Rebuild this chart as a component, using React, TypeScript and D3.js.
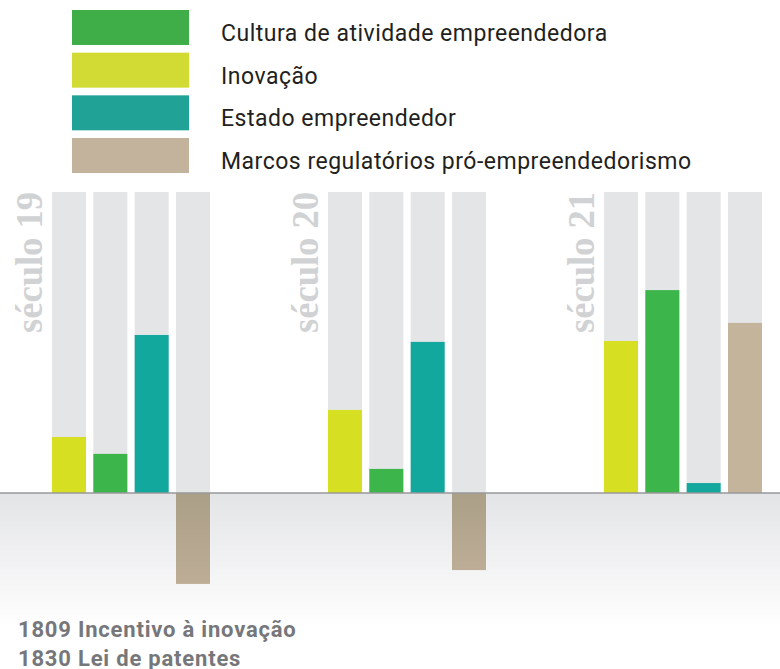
import React from "react";
import * as d3 from "d3";

const centuries = ["século 19", "século 20", "século 21"];
const seriesKeys = ["Inovação", "Cultura de atividade empreendedora", "Estado empreendedor", "Marcos regulatórios pró-empreendedorismo"];
const legendOrder = ["Cultura de atividade empreendedora", "Inovação", "Estado empreendedor", "Marcos regulatórios pró-empreendedorismo"];
const inovacao = [18.6, 27.6, 50.5];
const cultura = [13.0, 8.0, 67.4];
const estado = [52.5, 50.2, 3.3];
const marcos = [-30.2, -25.6, 56.5];
const notes = ["1809 Incentivo à inovação", "1830 Lei de patentes"];

const barColors: Record<string, string> = {
  "Inovação": "#d6df22",
  "Cultura de atividade empreendedora": "#3cb54a",
  "Estado empreendedor": "#13a89e",
  "Marcos regulatórios pró-empreendedorismo": "#c4b49b",
};
const legendColors: Record<string, string> = {
  "Inovação": "#d2db33",
  "Cultura de atividade empreendedora": "#3fae49",
  "Estado empreendedor": "#21a297",
  "Marcos regulatórios pró-empreendedorismo": "#c4b39c",
};

export default function App() {
  const W = 780, H = 669;
  const valuesBySeries: Record<string, number[]> = {
    "Inovação": inovacao,
    "Cultura de atividade empreendedora": cultura,
    "Estado empreendedor": estado,
    "Marcos regulatórios pró-empreendedorismo": marcos,
  };
  const baseY = 493;
  const y = d3.scaleLinear().domain([0, 100]).range([baseY, 192]);
  const x0 = d3.scaleBand<string>().domain(centuries).range([52, 52 + 3 * 276]).padding(0);
  const x1 = d3.scaleBand<string>().domain(seriesKeys).range([0, 158]).paddingInner(0.1774).paddingOuter(0);
  const legendY = d3.scaleBand<string>().domain(legendOrder).range([10, 173]).paddingInner(0.18).paddingOuter(0);

  return (
    <svg width={W} height={H} style={{ position: "absolute", left: 0, top: 0 }}>
      <defs>
        <linearGradient id="floor" x1="0" y1="0" x2="0" y2="1">
          <stop offset="0" stopColor="#e3e4e6" />
          <stop offset="1" stopColor="#ffffff" />
        </linearGradient>
        <linearGradient id="neg" x1="0" y1="0" x2="0" y2="1">
          <stop offset="0" stopColor="#ab9f88" />
          <stop offset="1" stopColor="#bdad96" />
        </linearGradient>
      </defs>
      <rect x={0} y={0} width={W} height={H} fill="#ffffff" />
      <rect x={0} y={baseY} width={W} height={135} fill="url(#floor)" />

      {/* legend */}
      {legendOrder.map((k) => (
        <g key={k}>
          <rect x={72} y={legendY(k)} width={117} height={legendY.bandwidth()} fill={legendColors[k]} />
          <text x={221} y={(legendY(k) as number) + 31} fontFamily="Roboto, 'Noto Sans', sans-serif" fontSize={23} letterSpacing={0.5} fill="#231f20">
            {k}
          </text>
        </g>
      ))}

      {/* groups */}
      {centuries.map((c, gi) => {
        const gx = x0(c) as number;
        return (
          <g key={c}>
            <text
              transform={`translate(${gx - 10},${333}) rotate(-90)`}
              fontFamily="'Liberation Serif', 'DejaVu Serif', serif"
              fontWeight="bold"
              fontSize={37}
              fill="#d1d2d4"
              textLength={141}
              lengthAdjust="spacingAndGlyphs"
            >
              {c}
            </text>
            {seriesKeys.map((s) => {
              const bx = gx + (x1(s) as number);
              const v = valuesBySeries[s][gi];
              const bw = x1.bandwidth();
              return (
                <g key={s}>
                  <rect x={bx} y={y(100)} width={bw} height={baseY - y(100)} fill="#e4e5e7" />
                  {v >= 0 ? (
                    <rect x={bx} y={y(v)} width={bw} height={baseY - y(v)} fill={barColors[s]} />
                  ) : (
                    <rect x={bx} y={baseY} width={bw} height={y(v) - baseY} fill="url(#neg)" />
                  )}
                </g>
              );
            })}
          </g>
        );
      })}

      <line x1={0} x2={W} y1={baseY} y2={baseY} stroke="#98999b" strokeWidth={1.5} />

      {notes.map((n, i) => (
        <text key={n} x={18} y={637 + i * 29} fontFamily="Roboto, 'Noto Sans', sans-serif" fontWeight="bold" fontSize={22} letterSpacing={0.8} fill="#76777b">
          {n}
        </text>
      ))}
    </svg>
  );
}
